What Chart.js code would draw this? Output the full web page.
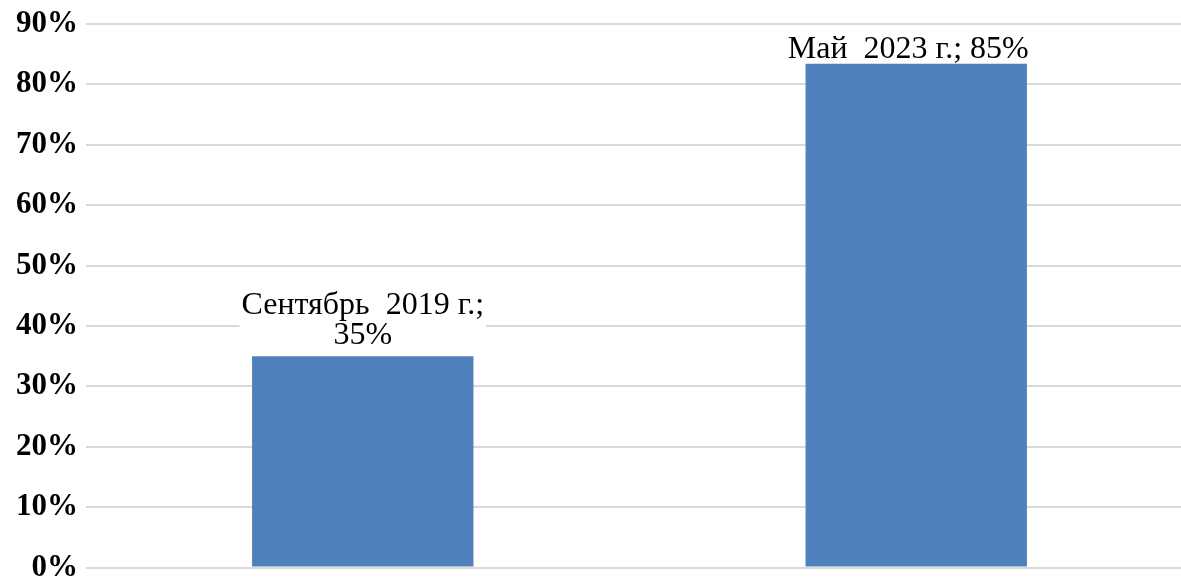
<!DOCTYPE html>
<html>
<head>
<meta charset="utf-8">
<script src="https://cdn.jsdelivr.net/npm/chart.js@4.4.1/dist/chart.umd.min.js"></script>
<style>
  html, body { margin: 0; padding: 0; background: #fff; overflow: hidden; }
  canvas { display: block; }
</style>
</head>
<body>
<canvas id="chart" width="1193" height="591"></canvas>
<script>
// данные
const categories = ['Сентябрь  2019 г.', 'Май  2023 г.'];
const values = [35, 83.4];
const valueLabels = ['35%', '85%'];
const yTicks = [0, 10, 20, 30, 40, 50, 60, 70, 80, 90];

const labelFont = '32px "Liberation Serif", serif';
const lineH = 30;

function labelLines(i) {
  if (i === 0) return [categories[i] + ';', valueLabels[i]];
  return [categories[i] + '; ' + valueLabels[i]];
}
function labelBase(bar, i) {
  // базовая линия последней строки
  return bar.y - (i === 0 ? 12 : 6);
}
function labelX(bar, i) {
  // вторая подпись в оригинале чуть сдвинута влево
  return bar.x - (i === 0 ? 0 : 8);
}

// подписи над столбиками (с белой подложкой)
const barLabels = {
  id: 'barLabels',
  beforeDatasetsDraw(chart) {
    const ctx = chart.ctx;
    ctx.save();
    ctx.font = labelFont;
    ctx.fillStyle = '#ffffff';
    chart.getDatasetMeta(0).data.forEach((bar, i) => {
      const lines = labelLines(i);
      const last = labelBase(bar, i);
      const first = last - lineH * (lines.length - 1);
      let w = 0;
      lines.forEach(l => { w = Math.max(w, ctx.measureText(l).width); });
      ctx.fillRect(labelX(bar, i) - w / 2 - 2, first - 26, w + 4, last - first + 34);
    });
    ctx.restore();
  },
  afterDatasetsDraw(chart) {
    const ctx = chart.ctx;
    ctx.save();
    ctx.font = labelFont;
    ctx.textAlign = 'center';
    ctx.textBaseline = 'alphabetic';
    ctx.fillStyle = '#000000';
    chart.getDatasetMeta(0).data.forEach((bar, i) => {
      const lines = labelLines(i);
      const last = labelBase(bar, i);
      const first = last - lineH * (lines.length - 1);
      lines.forEach((l, k) => ctx.fillText(l, labelX(bar, i), first + k * lineH));
    });
    ctx.restore();
  }
};

new Chart(document.getElementById('chart'), {
  type: 'bar',
  data: {
    labels: categories,
    datasets: [{
      data: values,
      backgroundColor: '#4F81BD',
      barPercentage: 0.4,
      categoryPercentage: 1
    }]
  },
  options: {
    responsive: false,
    animation: false,
    layout: { padding: { left: 8, top: 24, right: 0, bottom: 0 } },
    plugins: { legend: { display: false }, tooltip: { enabled: false } },
    scales: {
      x: { display: false },
      y: {
        min: 0, max: 90,
        afterBuildTicks: (axis) => { axis.ticks = yTicks.map(v => ({ value: v })); },
        border: { display: false },
        grid: { color: '#d9d9d9', lineWidth: 2, drawTicks: false },
        ticks: {
          padding: 8,
          color: '#000',
          font: { family: '"Liberation Serif", serif', size: 31, weight: 'bold', lineHeight: 1 },
          callback: (v) => v + '%'
        }
      }
    }
  },
  plugins: [barLabels]
});
</script>
</body>
</html>
